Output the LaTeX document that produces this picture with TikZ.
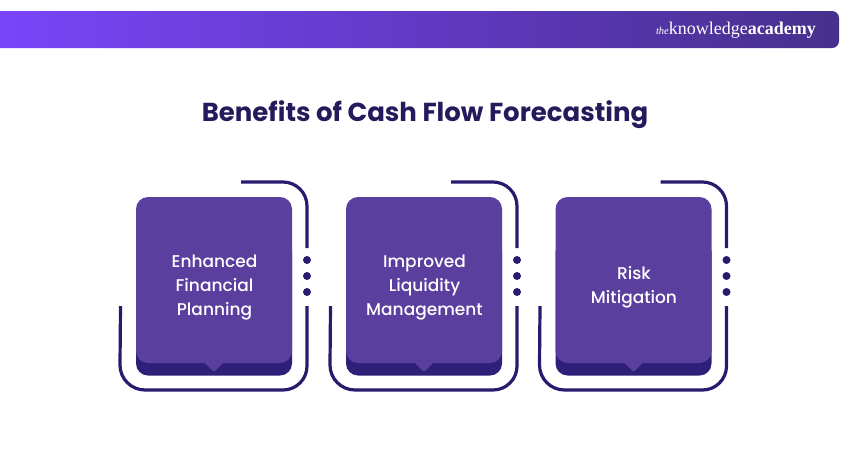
\documentclass[tikz,border=0pt]{standalone}
\usepackage{fontspec}
\setmainfont{Poppins}
\newfontfamily\cardfont{Poppins Medium}
\newfontfamily\logofont{Liberation Serif}
\usetikzlibrary{positioning}
\definecolor{cardface}{HTML}{5A3F9E}
\definecolor{carddark}{HTML}{2E1F78}
\definecolor{linedark}{HTML}{2A1A6E}
\definecolor{titledark}{HTML}{261A5C}
\definecolor{barleft}{HTML}{7A45F8}
\definecolor{barmid}{HTML}{6239C4}
\definecolor{barright}{HTML}{46308C}
\tikzstyle{bracket} = [linedark,line width=3.2pt]
\tikzstyle{dot} = [fill=linedark,draw=none]
\tikzstyle{cardtext} = [white,font=\cardfont\fontsize{17}{24}\selectfont,align=center,text width=150pt]
\newcommand{\benefit}[4][]{
 \begin{scope}[shift={(#3)},#1]
  \fill[carddark,rounded corners=12pt] (136,240) rectangle (292,375.5);
  \fill[cardface,rounded corners=12pt] (136,197) rectangle (292,363);
  \fill[cardface] (204,362) -- (224,362) -- (216,370) -- (214,371.5) -- (212,370) -- cycle;
  \draw[bracket] (241,182) -- (283,182) arc (-90:0:24) -- (307,248); % top
  \draw[bracket] (307,306) -- (307,366) arc (0:90:24) -- (145,390) arc (90:180:25) -- (120.5,306); % bottom
  \fill[dot] (307,260) circle (4);
  \fill[dot] (307,276) circle (4);
  \fill[dot] (307,292) circle (4);
  \node[cardtext] (#2) at (214.5,287.5) {#4};
 \end{scope}
}

\begin{document}
\begin{tikzpicture}[x=1pt,y=-1pt]
    \useasboundingbox (0,0) rectangle (850,450);

    % header bar
    \shade[left color=barleft,right color=barright,middle color=barmid]
      (0,11) [rounded corners=7pt] -- (839,11) -- (839,48) [sharp corners] -- (0,48) -- cycle;
    \node[white,anchor=east,inner sep=0pt] (logo) at (816,30)
      {\logofont\fontsize{18}{18}\selectfont{\fontsize{10.5}{10.5}\selectfont\itshape the}knowledge\textbf{academy}};

    \node[titledark,inner sep=0pt] (title) at (425,115)
      {\fontsize{26}{30}\selectfont\bfseries Benefits of Cash Flow Forecasting};

    \benefit{enhanced}{0,0}{Enhanced\\Financial\\Planning}
    \benefit{liquidity}{210,0}{Improved\\Liquidity\\Management}
    \benefit{risk}{419.5,0}{Risk\\Mitigation}
\end{tikzpicture}
\end{document}
